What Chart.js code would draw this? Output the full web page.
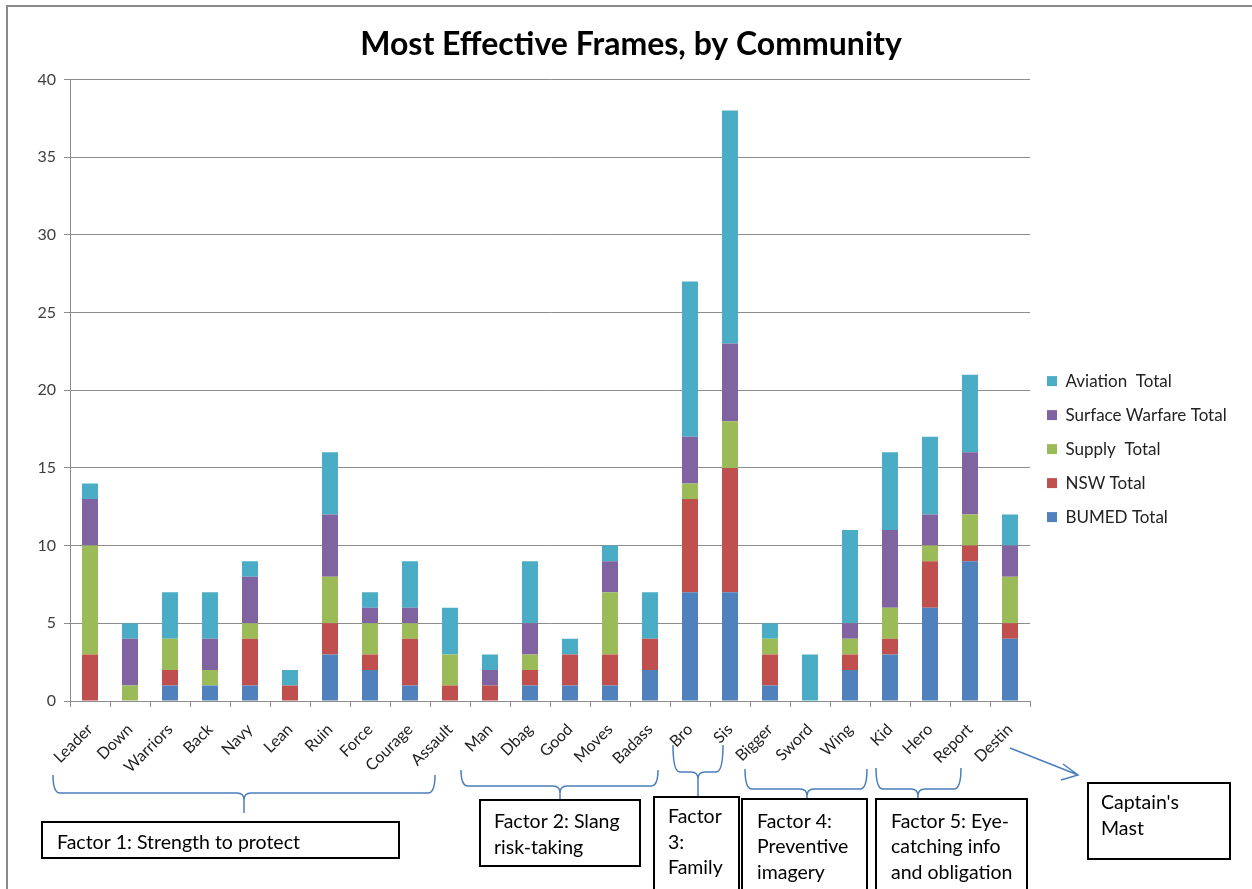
<!DOCTYPE html>
<html>
<head>
<meta charset="utf-8">
<script src="https://cdn.jsdelivr.net/npm/chart.js@4/dist/chart.umd.min.js"></script>
<style>
  html, body { margin: 0; padding: 0; background: #fff; }
  #wrap { width: 1252px; height: 889px; position: relative; }
</style>
</head>
<body>
<div id="wrap"><canvas id="framesChart"></canvas></div>
<script>
// categories and series
var frames = ["Leader", "Down", "Warriors", "Back", "Navy", "Lean", "Ruin", "Force", "Courage", "Assault",
              "Man", "Dbag", "Good", "Moves", "Badass", "Bro", "Sis", "Bigger", "Sword", "Wing",
              "Kid", "Hero", "Report", "Destin"];

var bumed    = [0, 0, 1, 1, 1, 0, 3, 2, 1, 0, 0, 1, 1, 1, 2, 7, 7, 1, 0, 2, 3, 6, 9, 4];
var nsw      = [3, 0, 1, 0, 3, 1, 2, 1, 3, 1, 1, 1, 2, 2, 2, 6, 8, 2, 0, 1, 1, 3, 1, 1];
var supply   = [7, 1, 2, 1, 1, 0, 3, 2, 1, 2, 0, 1, 0, 4, 0, 1, 3, 1, 0, 1, 2, 1, 2, 3];
var surface  = [3, 3, 0, 2, 3, 0, 4, 1, 1, 0, 1, 2, 0, 2, 0, 3, 5, 0, 0, 1, 5, 2, 4, 2];
var aviation = [1, 1, 3, 3, 1, 1, 4, 1, 3, 3, 1, 4, 1, 1, 3, 10, 15, 1, 3, 6, 5, 5, 5, 2];

var yTicks = [0, 5, 10, 15, 20, 25, 30, 35, 40];

// hand-drawn notes under the axis (pixel layout, not data)
var braces = [
  { x1: 53,  x2: 435, xc: 244, top: 775, mid: 793, tip: 813 },
  { x1: 461, x2: 658, xc: 560, top: 770, mid: 786, tip: 800 },
  { x1: 673, x2: 723, xc: 698, top: 745, mid: 772, tip: 797 },
  { x1: 745, x2: 867, xc: 807, top: 769, mid: 789, tip: 810 },
  { x1: 876, x2: 961, xc: 918, top: 768, mid: 789, tip: 815 }
];
var notes = [
  { x: 42,   y: 822, w: 357, h: 36,  lines: ["Factor 1: Strength to protect"], tx: 57,  ty: [843] },
  { x: 480,  y: 800, w: 160, h: 66,  lines: ["Factor 2: Slang", "risk-taking"], tx: 494, ty: [822, 848] },
  { x: 654,  y: 797, w: 85,  h: 100, lines: ["Factor", "3:", "Family"], tx: 668, ty: [817, 843, 868] },
  { x: 742,  y: 799, w: 125, h: 100, lines: ["Factor 4:", "Preventive", "imagery"], tx: 757, ty: [822, 847, 873] },
  { x: 876,  y: 799, w: 151, h: 100, lines: ["Factor 5: Eye-", "catching info", "and obligation"], tx: 891, ty: [822, 847, 873] },
  { x: 1088, y: 783, w: 142, h: 76,  lines: ["Captain's", "Mast"], tx: 1101, ty: [803, 829] }
];

Chart.defaults.font.family = "Lato, 'Open Sans', sans-serif";

var frameBorder = {
  id: 'frameBorder',
  beforeDraw: function (chart) {
    var c = chart.ctx;
    c.save();
    c.strokeStyle = '#8a8a8a';
    c.lineWidth = 2;
    c.strokeRect(7, 6, 1300, 1000);
    c.restore();
  }
};

var legendFix = {
  id: 'legendFix',
  beforeLayout: function (chart) {
    var lg = chart.legend;
    if (lg && !lg._fixedWidth) {
      var fit = lg.fit;
      lg.fit = function () { fit.call(this); this.width = 222; };
      lg._fixedWidth = true;
    }
  }
};

var factorNotes = {
  id: 'factorNotes',
  afterDraw: function (chart) {
    var c = chart.ctx;
    c.save();
    // braces
    c.strokeStyle = '#4a7ebb';
    c.lineWidth = 1.5;
    braces.forEach(function (b) {
      var r = Math.min(7, b.mid - b.top);
      c.beginPath();
      c.moveTo(b.x1, b.top);
      c.quadraticCurveTo(b.x1, b.mid, b.x1 + r, b.mid);
      c.lineTo(b.xc - r, b.mid);
      c.quadraticCurveTo(b.xc, b.mid, b.xc, b.mid + r);
      c.lineTo(b.xc, b.tip);
      c.moveTo(b.xc, b.mid + r);
      c.quadraticCurveTo(b.xc, b.mid, b.xc + r, b.mid);
      c.lineTo(b.x2 - r, b.mid);
      c.quadraticCurveTo(b.x2, b.mid, b.x2, b.top);
      c.stroke();
    });
    // arrow to Captain's Mast
    c.beginPath();
    c.moveTo(1010, 748);
    c.lineTo(1078, 775);
    c.moveTo(1063, 764);
    c.lineTo(1078, 775);
    c.lineTo(1061, 780);
    c.stroke();
    // boxes
    notes.forEach(function (n) {
      c.fillStyle = '#fff';
      c.fillRect(n.x, n.y, n.w, n.h);
      c.strokeStyle = '#000';
      c.lineWidth = 2;
      c.strokeRect(n.x, n.y, n.w, n.h);
      c.fillStyle = '#000';
      c.font = "19.5px Lato, 'Open Sans', sans-serif";
      c.textBaseline = 'middle';
      n.lines.forEach(function (t, i) { c.fillText(t, n.tx, n.ty[i]); });
    });
    c.restore();
  }
};

var ctx = document.getElementById("framesChart").getContext("2d");
new Chart(ctx, {
  type: 'bar',
  data: {
    labels: frames,
    datasets: [
      { label: "BUMED Total", data: bumed, backgroundColor: "#4f81bd" },
      { label: "NSW Total", data: nsw, backgroundColor: "#c0504d" },
      { label: "Supply  Total", data: supply, backgroundColor: "#9bbb59" },
      { label: "Surface Warfare Total", data: surface, backgroundColor: "#8064a2" },
      { label: "Aviation  Total", data: aviation, backgroundColor: "#4bacc6" }
    ]
  },
  options: {
    responsive: true,
    maintainAspectRatio: false,
    animation: false,
    barPercentage: 0.4,
    categoryPercentage: 1.0,
    layout: { padding: { left: 10, right: 0, top: 0, bottom: 0 } },
    plugins: {
      title: {
        display: true,
        text: "Most Effective Frames, by Community",
        color: '#000',
        font: { size: 32, weight: 'bold' },
        padding: { top: 25, bottom: 16 }
      },
      legend: {
        position: 'right',
        reverse: true,
        title: { display: true, text: ' ', font: { size: 1 }, padding: { top: 8, bottom: 0 } },
        labels: {
          boxWidth: 10,
          boxHeight: 10,
          padding: 17,
          color: '#222',
          font: { size: 17 }
        }
      },
      tooltip: { enabled: false }
    },
    scales: {
      x: {
        stacked: true,
        afterFit: function (s) { s.height = 188; },
        grid: { drawOnChartArea: false, color: '#8c8c8c', tickLength: 6 },
        border: { color: '#8c8c8c' },
        ticks: { autoSkip: false, maxRotation: 45, minRotation: 45, color: '#222', font: { size: 16 }, padding: 13 }
      },
      y: {
        stacked: true,
        min: 0,
        max: 40,
        afterFit: function (s) { s.width = 60; },
        afterBuildTicks: function (s) { s.ticks = yTicks.map(function (v) { return { value: v }; }); },
        grid: { color: '#8c8c8c', tickLength: 6 },
        border: { color: '#8c8c8c' },
        ticks: { color: '#404040', font: { size: 16 }, padding: 8 }
      }
    }
  },
  plugins: [frameBorder, legendFix, factorNotes]
});
</script>
</body>
</html>
